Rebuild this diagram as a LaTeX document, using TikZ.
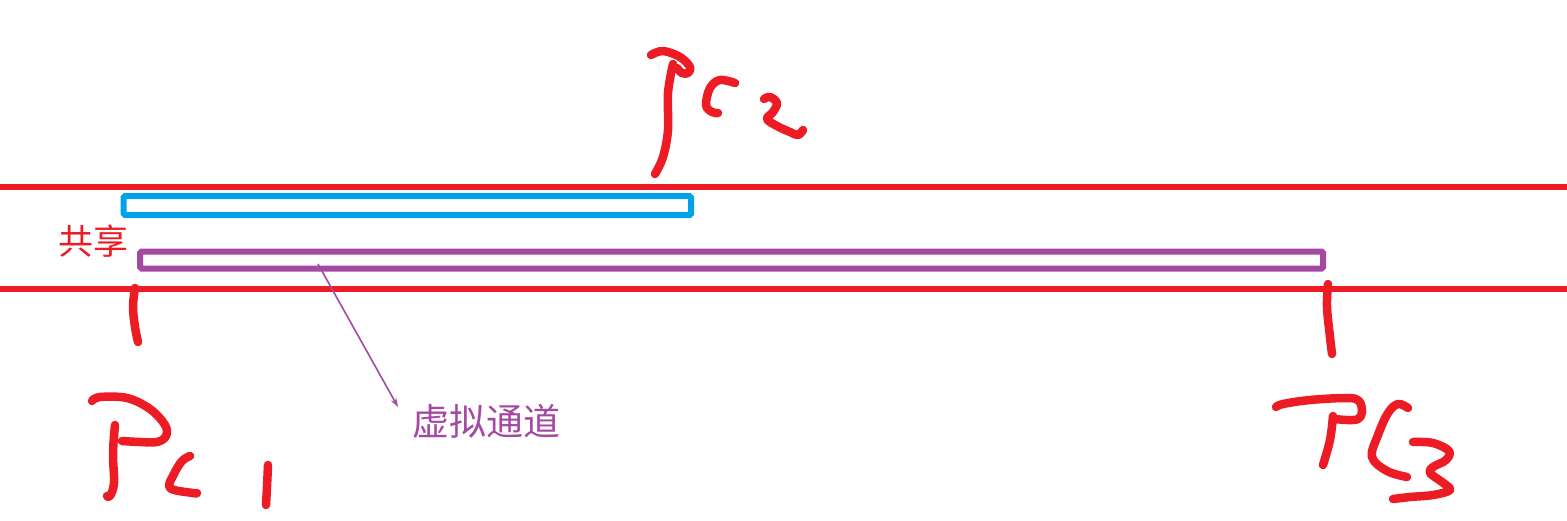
\documentclass[tikz,border=0pt]{standalone}
\usepackage{fontspec}
\newfontfamily\cjk{Noto Sans CJK SC}
\usetikzlibrary{arrows.meta}
\definecolor{hred}{HTML}{ED1C24}
\definecolor{hblue}{HTML}{00A2E8}
\definecolor{hpurple}{HTML}{A349A4}
\begin{document}
\begin{tikzpicture}[x=1pt,y=-1pt,
  hand/.style={draw=hred,line width=8.5pt,line cap=round,line join=round},
  rail/.style={draw=hred,line width=6pt},
  chan/.style={line width=6pt,rounded corners=1.5pt},
  lbl/.style={inner sep=0pt,anchor=west,font=\cjk}]
\useasboundingbox (0,0) rectangle (1567,520);
% rails
\coordinate (r1a) at (0,187); \coordinate (r1b) at (1567,187);
\coordinate (r2a) at (0,289); \coordinate (r2b) at (1567,289);
\draw[rail] (r1a) -- (r1b);
\draw[rail] (r2a) -- (r2b);
% channels
\draw[chan,draw=hblue] (123.5,196) rectangle (691,215);
\draw[chan,draw=hpurple] (140,251.5) rectangle (1323,268.5);
% labels
\node[lbl,text=hred,font=\cjk\fontsize{35}{35}\selectfont] (share) at (58,241) {共享};
\node[lbl,text=hpurple,font=\cjk\fontsize{37}{37}\selectfont] (vc) at (412,421) {虚拟通道};
\coordinate (vcs) at (318,264);
\coordinate (vce) at (398,407);
\draw[hpurple,line width=1.6pt,-{Stealth[length=9pt,width=6pt]}] (vcs) -- (vce);
% tick marks
\draw[hand] plot[smooth,tension=0.6] coordinates {(135,288) (133,307) (135,327) (138,342)};
\draw[hand] plot[smooth,tension=0.6] coordinates {(1328,284) (1327,307) (1330,337) (1332,354)};
% PC2
\draw[hand] plot[smooth,tension=0.6] coordinates {(651,55) (663,51) (680,57) (690,67) (688,73) (682,73) (677,68)};
\draw[hand] plot[smooth,tension=0.6] coordinates {(673,64) (668,93) (668,130) (663,157) (655,174)};
\draw[hand] plot[smooth,tension=0.6] coordinates {(735,83) (720,80) (710,88) (706,105) (712,112) (718,113)};
\draw[hand] plot[smooth,tension=0.6] coordinates {(764,99) (770,97) (777,103) (773,112) (767,119) (777,126) (790,132) (798,135) (803,130)};
% PC1
\draw[hand] plot[smooth,tension=0.6] coordinates {(92,401) (100,397) (127,398) (150,409) (165,425) (166,436) (157,442) (140,442) (122,441)};
\draw[hand] plot[smooth,tension=0.6] coordinates {(115,425) (113,453) (114,483) (110,496) (107,496)};
\draw[hand] plot[smooth,tension=0.6] coordinates {(190,456) (182,461) (174,474) (170,488) (193,493) (197,493)};
\draw[hand] plot[smooth,tension=0.6] coordinates {(268,465) (267,487) (266,505)};
% PC3
\draw[hand] plot[smooth,tension=0.6] coordinates {(1276,407) (1283,404) (1310,400) (1347,398) (1359,401) (1362,412) (1358,419) (1347,420) (1335,419)};
\draw[hand] plot[smooth,tension=0.6] coordinates {(1333,416) (1330,440) (1323,465)};
\draw[hand] plot[smooth,tension=0.6] coordinates {(1408,408) (1398,404) (1388,413) (1378,435) (1372,457) (1387,471) (1407,477)};
\draw[hand] plot[smooth,tension=0.6] coordinates {(1413,442) (1433,443) (1449,451) (1446,460) (1433,467) (1430,473) (1442,482) (1450,490) (1433,495) (1410,497) (1393,499)};
\end{tikzpicture}
\end{document}
